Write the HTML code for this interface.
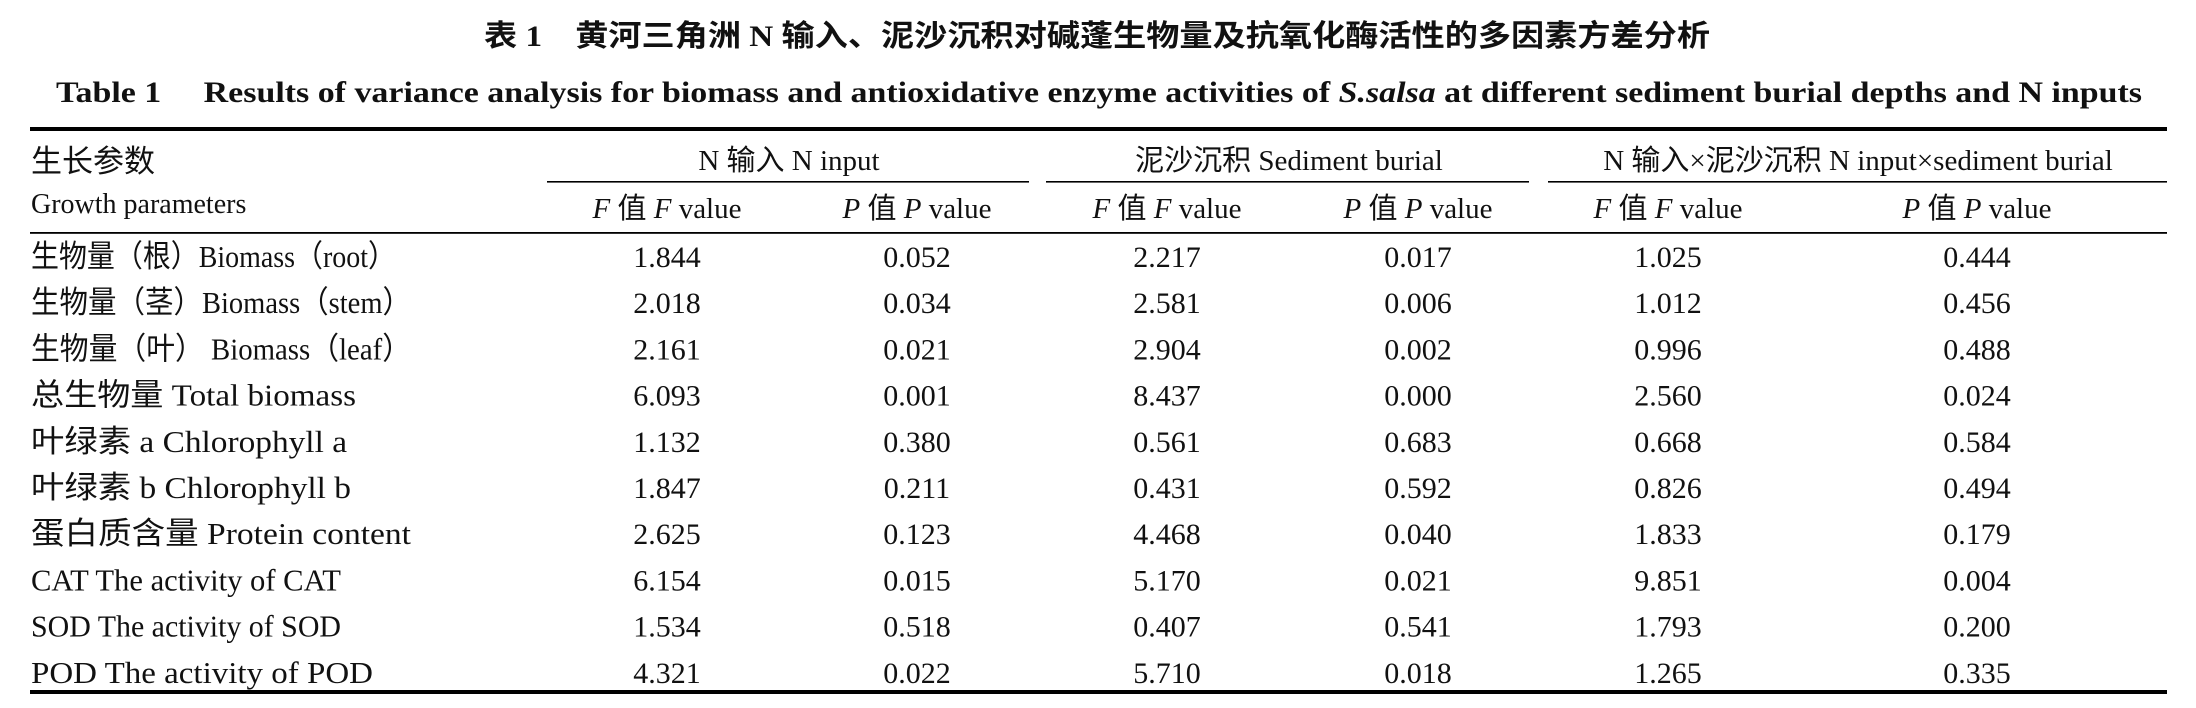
<!DOCTYPE html>
<html><head><meta charset="utf-8"><style>
html,body{margin:0;padding:0;background:#fff;}
svg{display:block;}
text{font-family:"Liberation Serif","Noto Serif CJK SC","Noto Sans CJK SC",serif;fill:#111;}
.cn{font-family:"Liberation Serif","Noto Sans CJK SC",sans-serif;}
</style></head><body>
<svg id="tbl" width="2196" height="708" viewBox="0 0 2196 708" xmlns="http://www.w3.org/2000/svg">
<text class="cn" x="484" y="46" font-size="30" font-weight="bold" textLength="1226" lengthAdjust="spacingAndGlyphs">表 1　黄河三角洲 N 输入、泥沙沉积对碱蓬生物量及抗氧化酶活性的多因素方差分析</text>
<text x="56" y="102" font-size="30" font-weight="bold" textLength="2086" lengthAdjust="spacingAndGlyphs">Table 1　 Results of variance analysis for biomass and antioxidative enzyme activities of <tspan font-style="italic">S.salsa</tspan> at different sediment burial depths and N inputs</text>
<rect x="30" y="127" width="2137" height="4" fill="#000"/>
<text class="cn" x="31" y="172" font-size="31">生长参数</text>
<text x="31" y="213" font-size="28">Growth parameters</text>
<text class="cn" x="789" y="170" font-size="29" text-anchor="middle">N 输入 N input</text>
<text class="cn" x="1289" y="170" font-size="29" text-anchor="middle">泥沙沉积 Sediment burial</text>
<text class="cn" x="1858" y="170" font-size="29" text-anchor="middle">N 输入×泥沙沉积 N input×sediment burial</text>
<rect x="547" y="181" width="482" height="1.6" fill="#000"/>
<rect x="1046" y="181" width="483" height="1.6" fill="#000"/>
<rect x="1548" y="181" width="619" height="1.6" fill="#000"/>
<g id="subheads"></g>
<rect x="30" y="232" width="2137" height="1.8" fill="#000"/>
<g id="rows"></g>
<rect x="30" y="690" width="2137" height="4" fill="#000"/>
</svg>
<script>
const labels=["生物量（根）Biomass（root）","生物量（茎）Biomass（stem）","生物量（叶） Biomass（leaf）","总生物量 Total biomass","叶绿素 a Chlorophyll a","叶绿素 b Chlorophyll b","蛋白质含量 Protein content","CAT The activity of CAT","SOD The activity of SOD","POD The activity of POD"];
const labelW=[365,380,380,325,316,320,380,310,310,342];
const fN=["1.844","2.018","2.161","6.093","1.132","1.847","2.625","6.154","1.534","4.321"];
const pN=["0.052","0.034","0.021","0.001","0.380","0.211","0.123","0.015","0.518","0.022"];
const fS=["2.217","2.581","2.904","8.437","0.561","0.431","4.468","5.170","0.407","5.710"];
const pS=["0.017","0.006","0.002","0.000","0.683","0.592","0.040","0.021","0.541","0.018"];
const fI=["1.025","1.012","0.996","2.560","0.668","0.826","1.833","9.851","1.793","1.265"];
const pI=["0.444","0.456","0.488","0.024","0.584","0.494","0.179","0.004","0.200","0.335"];
const NS="http://www.w3.org/2000/svg";
const colX=[667,917,1167,1418,1668,1977];
const cols=[fN,pN,fS,pS,fI,pI];
const colNames=["f-n","p-n","f-sed","p-sed","f-int","p-int"];
function rowY(i){return 267+i*46.2;}
const rows=document.getElementById('rows');
labels.forEach((lab,i)=>{
  const t=document.createElementNS(NS,'text');
  
  
  t.setAttribute('class','cn');
  t.setAttribute('x',31);t.setAttribute('y',rowY(i));t.setAttribute('font-size','31');
  t.setAttribute('textLength',labelW[i]);t.setAttribute('lengthAdjust','spacingAndGlyphs');
  t.textContent=lab;rows.appendChild(t);
  cols.forEach((arr,c)=>{
    const v=document.createElementNS(NS,'text');
    
    
    v.setAttribute('x',colX[c]);v.setAttribute('y',rowY(i));
    v.setAttribute('font-size','30');v.setAttribute('text-anchor','middle');
    v.textContent=arr[i];rows.appendChild(v);
  });
});
const sub=document.getElementById('subheads');
colX.forEach((x,c)=>{
  const t=document.createElementNS(NS,'text');
  
  
  t.setAttribute('class','cn');
  t.setAttribute('x',x);t.setAttribute('y',218);t.setAttribute('font-size','29');t.setAttribute('text-anchor','middle');
  const L=c%2===0?'F':'P';
  t.innerHTML='<tspan font-style="italic">'+L+'</tspan> 值 <tspan font-style="italic">'+L+'</tspan> value';
  sub.appendChild(t);
});
</script>
</body></html>
